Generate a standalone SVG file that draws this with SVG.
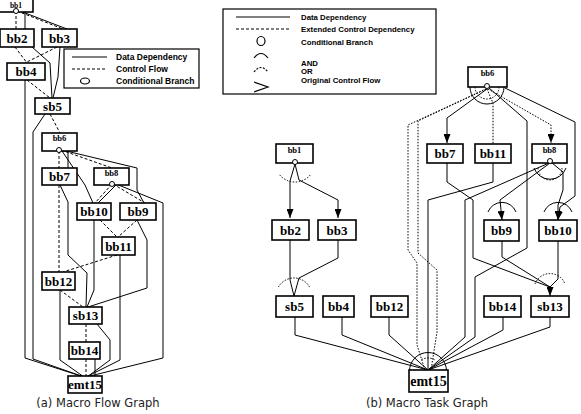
<svg xmlns="http://www.w3.org/2000/svg" width="581" height="414" viewBox="0 0 581 414">
<defs>
<style>
.box{fill:#fff;stroke:#000;stroke-width:1.6}
.s{fill:none;stroke:#000;stroke-width:1}
.d{fill:none;stroke:#000;stroke-width:1;stroke-dasharray:3 2}
.o{fill:none;stroke:#000;stroke-width:1;stroke-dasharray:1.5 1.5}
.c{fill:#fff;stroke:#000;stroke-width:1}
.lbl{font-family:"Liberation Serif",serif;font-weight:bold;font-size:13px;text-anchor:middle;fill:#000}
.sm{font-size:8.5px}
.xs{font-size:7.5px}
.big{font-size:14px}
.leg{font-family:"Liberation Sans",sans-serif;font-weight:bold;font-size:8.5px;fill:#000}
.leg2{font-family:"Liberation Sans",sans-serif;font-weight:bold;font-size:7.8px;fill:#000}
.cap{font-family:"DejaVu Sans",sans-serif;font-size:11.5px;text-anchor:middle;fill:#222}
</style>
<marker id="ar" markerUnits="userSpaceOnUse" markerWidth="9" markerHeight="7" refX="9" refY="3.5" orient="auto">
<path d="M0,0 L9,3.5 L0,7 z" fill="#000"/>
</marker>
</defs>

<!-- ===== (a) Macro Flow Graph ===== -->
<g id="edges-a">
<path class="d" d="M16,11 L16,29"/>
<path class="s" d="M25,12 L25,29" stroke-width="1.5"/>
<path class="d" d="M17,11 L63,29"/>
<path class="s" d="M20,11 L67,29"/>
<path class="d" d="M15,47 L27,63"/>
<path class="s" d="M32,47 L50,63 L52,98"/>
<path class="d" d="M57,47 L25,63"/>
<path class="s" d="M60,47 L58,77 L53,98"/>
<path class="d" d="M27,80 L50,98"/>
<path class="s" d="M25,80 L25,358 L84,377"/>
<path class="d" d="M50,114 L60,133"/>
<path class="s" d="M45,114 L33,132 L33,359 L84,377"/>
<path class="d" d="M59,151 L59,168"/>
<path class="s" d="M60,151 L68,151 L68,168" stroke-width="1.8"/>
<path class="s" d="M62,151 L85,185 L93,203"/>
<path class="d" d="M61,150 L112,168"/>
<path class="s" d="M62,150 L137,168 L137,190 L144,203"/>
<path class="d" d="M112,184 L95,203"/>
<path class="s" d="M116,185 L98,203"/>
<path class="d" d="M113,184 L145,203"/>
<path class="s" d="M116,184 L163,203 L163,358 L86,377"/>
<path class="d" d="M59,185 L59,272"/>
<path class="s" d="M60,185 L68,202 L68,255 L87,273 L86,307"/>
<path class="d" d="M100,220 L117,237"/>
<path class="d" d="M137,220 L118,237"/>
<path class="s" d="M94,220 L94,290 L87,307"/>
<path class="s" d="M137,220 L147,240 L147,288 L88,307"/>
<path class="d" d="M117,255 L63,272"/>
<path class="s" d="M120,255 L120,360 L86,377"/>
<path class="d" d="M60,290 L83,307"/>
<path class="s" d="M60,290 L60,360 L84,377"/>
<path class="d" d="M86,324 L86,342"/>
<path class="s" d="M97,324 L110,340 L110,360 L87,377"/>
<path class="d" d="M86,359 L86,376"/>
<path class="s" d="M95,359 L95,376" stroke-width="1.5"/>
</g>

<g id="a-bb1"><rect class="box" x="-2" y="-6" width="35" height="18"/><text class="lbl xs" x="16" y="7.5">bb1</text><circle class="c" cx="16" cy="11" r="2.5"/></g>
<g id="a-bb2"><rect class="box" x="0" y="29" width="34" height="18"/><text class="lbl" x="17" y="43">bb2</text></g>
<g id="a-bb3"><rect class="box" x="42" y="29" width="35" height="18"/><text class="lbl" x="59.5" y="43">bb3</text></g>
<g id="a-bb4"><rect class="box" x="7" y="63" width="38" height="17"/><text class="lbl" x="26" y="76">bb4</text></g>
<g id="a-sb5"><rect class="box" x="35" y="98" width="35" height="16"/><text class="lbl" x="52.5" y="110.5">sb5</text></g>
<g id="a-bb6"><rect class="box" x="42" y="133" width="35" height="18"/><text class="lbl sm" x="59.5" y="141">bb6</text><circle class="c" cx="59" cy="150" r="2.5"/></g>
<g id="a-bb7"><rect class="box" x="42" y="168" width="35" height="17"/><text class="lbl" x="59.5" y="181">bb7</text></g>
<g id="a-bb8"><rect class="box" x="94" y="168" width="35" height="17"/><text class="lbl sm" x="111.5" y="176">bb8</text><circle class="c" cx="112" cy="184" r="2.5"/></g>
<g id="a-bb10"><rect class="box" x="77" y="203" width="34" height="17"/><text class="lbl" x="94" y="216">bb10</text></g>
<g id="a-bb9"><rect class="box" x="120" y="203" width="36" height="17"/><text class="lbl" x="138" y="216">bb9</text></g>
<g id="a-bb11"><rect class="box" x="102" y="237" width="33" height="18"/><text class="lbl" x="118.5" y="250.5">bb11</text></g>
<g id="a-bb12"><rect class="box" x="42" y="272" width="33" height="18"/><text class="lbl" x="58.5" y="285.5">bb12</text></g>
<g id="a-sb13"><rect class="box" x="69" y="307" width="33" height="17"/><text class="lbl" x="85.5" y="320">sb13</text></g>
<g id="a-bb14"><rect class="box" x="69" y="342" width="31" height="17"/><text class="lbl" x="84.5" y="355">bb14</text></g>
<g id="a-emt15"><rect class="box" x="68" y="376" width="34" height="17"/><text class="lbl" x="85" y="389">emt15</text></g>

<g id="legend-a">
<rect x="64" y="49" width="135" height="39" fill="#fff" stroke="#000" stroke-width="1.2"/>
<line class="s" x1="72" y1="57" x2="107" y2="57" stroke-width="1.3"/>
<line class="d" x1="72" y1="69" x2="107" y2="69" stroke-width="1.3" stroke-dasharray="4 3"/>
<ellipse cx="85" cy="81" rx="4.5" ry="3" fill="none" stroke="#000" stroke-width="1.2"/>
<text class="leg" x="116" y="60">Data Dependency</text>
<text class="leg" x="116" y="72">Control Flow</text>
<text class="leg" x="116" y="84">Conditional Branch</text>
</g>
<text class="cap" x="98" y="407">(a) Macro Flow Graph</text>

<!-- ===== (b) Macro Task Graph ===== -->
<g id="edges-b">
<path class="s" d="M295,164 L290,181 L290,218" marker-end="url(#ar)"/>
<path class="s" d="M295,164 L299,180 L338,200 L338,218" marker-end="url(#ar)"/>
<path class="o" d="M279.7,174.9 A20,20 0 0 0 310.3,174.9"/>
<path class="s" d="M290,240 L290,280 L294,296"/>
<path class="s" d="M338,240 L338,258 L299,278 L294,296"/>
<path class="o" d="M278.4,287 A18,18 0 0 1 309.6,287"/>
<path class="s" d="M295,317 L295,335 L428,370"/>
<path class="s" d="M342,317 L342,335 L428,370"/>
<path class="s" d="M389,317 L389,335 L428,370"/>
<path class="s" d="M503,317 L503,330 L428,370"/>
<path class="s" d="M550,317 L550,327 L428,370"/>
<path class="s" d="M409.5,371 A18.5,18.5 0 0 1 446.5,371"/>
<path class="o" d="M421.5,359.7 A13,13 0 0 1 434.5,359.7"/>
<path class="s" d="M487,89 L447,118 L447,143" marker-end="url(#ar)"/>
<path class="o" d="M487,89 L493,103 L493,144"/>
<path class="o" d="M488,89 L551,125 L551,143" marker-end="url(#ar)"/>
<path class="o" d="M486,89 L408,125 L408,250 L417,263 L417,345 L425,370"/>
<path class="o" d="M486,89 L418,121 L418,253 L437,270 L437,332 L431,370"/>
<path class="s" d="M489,88 L527,121 L527,248 L475,277 L475,337 L428,370"/>
<path class="s" d="M505,88 L575,122 L575,196 L560,207 L558,220" marker-end="url(#ar)"/>
<path class="s" d="M470,87 A17,17 0 0 0 504,87"/>
<path class="o" d="M475,87 A12,12 0 0 0 499,87"/>
<path class="s" d="M447,163 L447,182 L473,200 L473,258 L550,287"/>
<path class="s" d="M493,163 L493,182 L428,200 L428,370"/>
<path class="s" d="M549,163 L465,200 L465,337 L428,370"/>
<path class="s" d="M550,163 L500,200 L502,220" marker-end="url(#ar)"/>
<path class="s" d="M552,163 L563,172 L563,190 L558,205 L558,220" marker-end="url(#ar)"/>
<path class="s" d="M534,168 A17,17 0 0 0 566,168"/>
<path class="o" d="M538,168 A12,12 0 0 0 562,168"/>
<path class="s" d="M488,212 A15,15 0 0 1 516,212"/>
<path class="s" d="M544,212 A15,15 0 0 1 572,212"/>
<path class="s" d="M502,241 L502,257 L550,287"/>
<path class="s" d="M558,241 L558,279 L550,287"/>
<path class="s" d="M550,286 L550,296" marker-end="url(#ar)"/>
<path class="o" d="M535,284 A16,16 0 0 1 565,284"/>
</g>

<g id="b-bb1"><rect class="box" x="276" y="144" width="37" height="19"/><text class="lbl sm" x="294.5" y="153">bb1</text><circle class="c" cx="295" cy="162" r="2.5"/></g>
<g id="b-bb2"><rect class="box" x="272" y="220" width="37" height="20"/><text class="lbl" x="290.5" y="234.5">bb2</text></g>
<g id="b-bb3"><rect class="box" x="318" y="220" width="38" height="20"/><text class="lbl" x="337" y="234.5">bb3</text></g>
<g id="b-sb5"><rect class="box" x="276" y="296" width="37" height="21"/><text class="lbl" x="294.5" y="311">sb5</text></g>
<g id="b-bb4"><rect class="box" x="323" y="296" width="31" height="21"/><text class="lbl" x="338.5" y="311">bb4</text></g>
<g id="b-bb12"><rect class="box" x="371" y="296" width="37" height="21"/><text class="lbl" x="389.5" y="311">bb12</text></g>
<g id="b-bb14"><rect class="box" x="484" y="296" width="37" height="21"/><text class="lbl" x="502.5" y="311">bb14</text></g>
<g id="b-sb13"><rect class="box" x="531" y="296" width="38" height="21"/><text class="lbl" x="550" y="311">sb13</text></g>
<g id="b-bb9"><rect class="box" x="484" y="220" width="35" height="21"/><text class="lbl" x="501.5" y="235">bb9</text></g>
<g id="b-bb10"><rect class="box" x="539" y="220" width="38" height="21"/><text class="lbl" x="558" y="235">bb10</text></g>
<g id="b-bb7"><rect class="box" x="427" y="144" width="36" height="19"/><text class="lbl" x="445" y="158">bb7</text></g>
<g id="b-bb11"><rect class="box" x="475" y="144" width="36" height="19"/><text class="lbl" x="493" y="158">bb11</text></g>
<g id="b-bb8"><rect class="box" x="532" y="144" width="35" height="19"/><text class="lbl sm" x="549.5" y="153">bb8</text><circle class="c" cx="550" cy="161" r="2.5"/></g>
<g id="b-bb6"><rect class="box" x="468" y="67" width="39" height="20"/><text class="lbl sm" x="487.5" y="76">bb6</text><circle class="c" cx="487" cy="86" r="2.5"/></g>
<g id="b-emt15"><rect class="box" x="409" y="370" width="39" height="22"/><text class="lbl big" x="428.5" y="386">emt15</text></g>

<g id="legend-b">
<rect x="223" y="9" width="213" height="85" fill="#fff" stroke="#000" stroke-width="1.2"/>
<line class="s" x1="236" y1="17" x2="290" y2="17" stroke-width="1.3"/>
<line class="d" x1="236" y1="29" x2="290" y2="29" stroke-width="1.3" stroke-dasharray="5 4"/>
<ellipse cx="261" cy="41" rx="4" ry="4.5" fill="none" stroke="#000" stroke-width="1.2"/>
<path d="M254,58 Q261,49 268,58" fill="none" stroke="#000" stroke-width="1.2"/>
<path d="M254,72 Q261,63 268,72" fill="none" stroke="#000" stroke-width="1.2" stroke-dasharray="2 1.5"/>
<path d="M254,82 L268,87 L254,92" fill="none" stroke="#000" stroke-width="1.2"/>
<text class="leg2" x="301" y="20">Data Dependency</text>
<text class="leg2" x="301" y="32">Extended Control Dependency</text>
<text class="leg2" x="301" y="45">Conditional Branch</text>
<text class="leg2" x="301" y="66">AND</text>
<text class="leg2" x="301" y="74">OR</text>
<text class="leg2" x="301" y="83">Original Control Flow</text>
</g>
<text class="cap" x="427" y="407">(b) Macro Task Graph</text>
</svg>
